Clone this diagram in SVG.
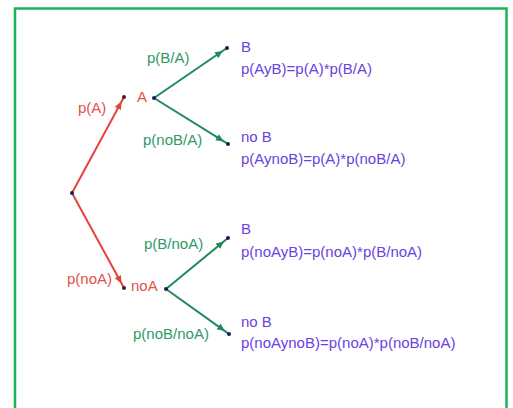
<svg xmlns="http://www.w3.org/2000/svg" width="513" height="408" viewBox="0 0 513 408">
<style>
text{font-family:"Liberation Sans",Arial,sans-serif;font-size:15px}
.r{fill:#e2514c}.g{fill:#2e9a66}.p{fill:#6a42e2}
.lr{stroke:#e8413c;stroke-width:2;fill:none;marker-mid:url(#ar)}
.lg{stroke:#1f8a5c;stroke-width:2;fill:none;marker-mid:url(#ag)}
.dot{fill:#1c1c60}
</style>
<defs>
<marker id="ar" markerWidth="10" markerHeight="8" refX="8" refY="4" orient="auto" markerUnits="userSpaceOnUse"><path d="M0,0.5 L8,4 L0,7.5 Z" fill="#e8413c"/></marker>
<marker id="ag" markerWidth="10" markerHeight="8" refX="8" refY="4" orient="auto" markerUnits="userSpaceOnUse"><path d="M0,0.5 L8,4 L0,7.5 Z" fill="#1f8a5c"/></marker>
</defs>
<rect x="15" y="8.5" width="491.5" height="420" fill="#fff" stroke="#17b45a" stroke-width="2.5"/>
<g id="connectors">
<path class="lr" d="M72,193 L121.6,101.4 L124,97"/>
<path class="lr" d="M72,193 L121.6,283.6 L124,288"/>
<path class="lg" d="M154,98 L222.9,50.8 L227,48"/>
<path class="lg" d="M154,98 L223.8,141.4 L228,144"/>
<path class="lg" d="M166,289 L224.1,241.2 L228,238"/>
<path class="lg" d="M166,289 L224.9,331.1 L229,334"/>
<text class="r" x="78" y="113">p(A)</text>
<text class="r" x="67" y="284">p(noA)</text>
<text class="g" x="147" y="63">p(B/A)</text>
<text class="g" x="143" y="145">p(noB/A)</text>
<text class="g" x="144" y="249">p(B/noA)</text>
<text class="g" x="133" y="339">p(noB/noA)</text>
</g>
<g id="root"><circle class="dot" cx="72" cy="193" r="2"/></g>
<g id="nodeA"><circle cx="124" cy="97" r="2" fill="#4a1c30"/><circle class="dot" cx="154" cy="98" r="2"/><text class="r" x="137" y="102">A</text></g>
<g id="nodeNoA"><circle cx="124" cy="288" r="2" fill="#4a1c30"/><circle class="dot" cx="166" cy="289" r="2"/><text class="r" x="131" y="291">noA</text></g>
<g id="nodeAB"><circle class="dot" cx="227" cy="48" r="2"/><text class="p" x="241" y="52">B</text><text class="p" x="241" y="74">p(AyB)=p(A)*p(B/A)</text></g>
<g id="nodeAnoB"><circle class="dot" cx="228" cy="144" r="2"/><text class="p" x="241" y="142">no B</text><text class="p" x="241" y="164">p(AynoB)=p(A)*p(noB/A)</text></g>
<g id="nodeNoAB"><circle class="dot" cx="228" cy="238" r="2"/><text class="p" x="241" y="234">B</text><text class="p" x="241" y="257">p(noAyB)=p(noA)*p(B/noA)</text></g>
<g id="nodeNoAnoB"><circle class="dot" cx="229" cy="334" r="2"/><text class="p" x="241" y="327">no B</text><text class="p" x="241" y="348">p(noAynoB)=p(noA)*p(noB/noA)</text></g>
</svg>
